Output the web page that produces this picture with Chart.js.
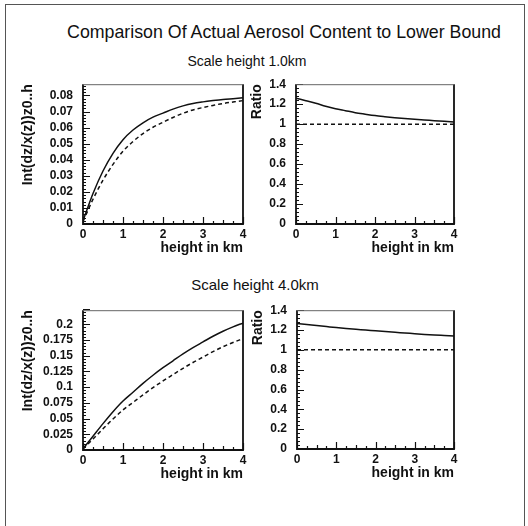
<!DOCTYPE html>
<html>
<head>
<meta charset="utf-8">
<script src="https://cdn.jsdelivr.net/npm/chart.js@4.4.0/dist/chart.umd.min.js"></script>
<style>
  body { margin: 0; background: #fff; width: 528px; height: 526px; position: relative; overflow: hidden;
         font-family: "Liberation Sans", Arial, sans-serif; color: #111; }
  .frame { position: absolute; left: 5px; top: 4px; width: 520px; height: 700px; border: 1px solid #555;
           border-bottom: none; box-sizing: border-box; }
  .txt { position: absolute; white-space: nowrap; transform: translate(-50%, -50%); }
  canvas { position: absolute; }
</style>
</head>
<body>
<div class="frame"></div>
<div class="txt" style="left:284px;top:32px;font-size:17.8px">Comparison Of Actual Aerosol Content to Lower Bound</div>
<div class="txt" style="left:247px;top:61px;font-size:14px">Scale height 1.0km</div>
<div class="txt" style="left:255px;top:284px;font-size:15px">Scale height 4.0km</div>

<canvas id="c1" width="235" height="190" style="left:20px;top:67px"></canvas>
<canvas id="c2" width="217" height="190" style="left:249px;top:67px"></canvas>
<canvas id="c3" width="235" height="190" style="left:20px;top:293px"></canvas>
<canvas id="c4" width="216" height="189" style="left:250px;top:293px"></canvas>

<script>
// height in km, shared by every curve
const heights = [0, 0.25, 0.5, 0.75, 1, 1.25, 1.5, 1.75, 2, 2.25, 2.5, 2.75, 3, 3.25, 3.5, 3.75, 4];

// scale height 1.0 km
const actual1 = [0.002, 0.019, 0.033, 0.044, 0.0525, 0.0585, 0.063, 0.0665, 0.069, 0.0715, 0.0735, 0.075, 0.076, 0.0768, 0.0775, 0.078, 0.0785];
const lower1  = [0.0016, 0.0154, 0.0273, 0.0371, 0.0453, 0.0513, 0.0563, 0.0602, 0.0633, 0.0663, 0.0689, 0.071, 0.0725, 0.0738, 0.075, 0.0759, 0.0768];
const ratio1  = [1.26, 1.235, 1.21, 1.18, 1.155, 1.135, 1.115, 1.1, 1.086, 1.075, 1.065, 1.056, 1.048, 1.041, 1.035, 1.028, 1.022];

// scale height 4.0 km
const actual4 = [0.002, 0.022, 0.042, 0.061, 0.078, 0.092, 0.106, 0.119, 0.131, 0.142, 0.153, 0.163, 0.172, 0.181, 0.189, 0.196, 0.202];
const lower4  = [0.0016, 0.0175, 0.0337, 0.0494, 0.0637, 0.0757, 0.0877, 0.0992, 0.1099, 0.12, 0.13, 0.1393, 0.1479, 0.1566, 0.1643, 0.1712, 0.1772];
const ratio4  = [1.265, 1.255, 1.245, 1.235, 1.225, 1.216, 1.208, 1.2, 1.192, 1.184, 1.177, 1.17, 1.163, 1.156, 1.15, 1.145, 1.14];

// reference line ratio = 1
const refX = [0, 4];
const refY = [1, 1];

// tick labels
const xTicks = [0, 1, 2, 3, 4];
const yTicks1 = [0, 0.01, 0.02, 0.03, 0.04, 0.05, 0.06, 0.07, 0.08];
const yTicks4 = [0, 0.025, 0.05, 0.075, 0.1, 0.125, 0.15, 0.175, 0.2];
const ratioTicks = [0, 0.2, 0.4, 0.6, 0.8, 1, 1.2, 1.4];

const FAM = '"Liberation Sans", Arial, sans-serif';
const INK = '#111';

// PAW style box with inward ticks
const frame = {
	id: 'frame',
	afterDraw(chart, args, o) {
		const { ctx, chartArea: a, scales: { x, y } } = chart;
		ctx.save();
		ctx.strokeStyle = INK;
		ctx.lineWidth = 1.2;
		ctx.beginPath();
		for (let i = 0; i <= 16; i++) {
			const v = i * 0.25;
			const px = Math.round(x.getPixelForValue(v)) + 0.5;
			const len = i % 4 === 0 ? 7 : (i % 2 === 0 ? 4 : 3);
			ctx.moveTo(px, a.bottom); ctx.lineTo(px, a.bottom - len);
		}
		const n = Math.round(y.max / o.minor);
		for (let i = 0; i <= n; i++) {
			const py = Math.round(y.getPixelForValue(i * o.minor)) + 0.5;
			const len = i % o.per === 0 ? 7 : 3;
			ctx.moveTo(a.left, py); ctx.lineTo(a.left + len, py);
		}
		ctx.stroke();
		ctx.lineWidth = 1.8;
		ctx.beginPath();
		ctx.moveTo(a.left, a.top); ctx.lineTo(a.left, a.bottom); ctx.lineTo(a.right, a.bottom); ctx.lineTo(a.right, a.top);
		ctx.stroke();
		ctx.strokeStyle = '#666';
		ctx.lineWidth = 1;
		ctx.beginPath();
		ctx.moveTo(a.left, a.top + 0.5); ctx.lineTo(a.right, a.top + 0.5);
		ctx.stroke();
		ctx.restore();
	}
};

function series(xs, ys, dash) {
	return {
		data: xs.map((h, i) => ({ x: h, y: ys[i] })),
		borderColor: INK, borderWidth: 1.5, borderDash: dash ? [4, 3] : [],
		pointRadius: 0, cubicInterpolationMode: 'monotone', fill: false
	};
}

function panel(id, datasets, yMax, yTicks, minor, per, yTitle, yW) {
	new Chart(document.getElementById(id), {
		type: 'line',
		data: { datasets },
		options: {
			responsive: false, animation: false, events: [],
			layout: { padding: { top: 10, right: 12, left: 0, bottom: 0 } },
			plugins: { legend: { display: false }, tooltip: { enabled: false }, frame: { minor, per } },
			scales: {
				x: {
					type: 'linear', min: 0, max: 4,
					grid: { display: false, drawTicks: false }, border: { display: false },
					afterBuildTicks: s => { s.ticks = xTicks.map(v => ({ value: v })); },
					afterFit: s => { s.height = 33; },
					ticks: { padding: 3, color: INK, autoSkip: false, maxRotation: 0, font: { family: FAM, size: 12, weight: 'bold' } },
					title: { display: true, text: 'height in km', align: 'end', padding: 0, color: INK, font: { family: FAM, size: 14, weight: 'bold' } }
				},
				y: {
					type: 'linear', min: 0, max: yMax,
					grid: { display: false, drawTicks: false }, border: { display: false },
					afterBuildTicks: s => { s.ticks = yTicks.map(v => ({ value: v })); },
					afterFit: s => { s.width = yW; },
					ticks: { padding: 10, color: INK, autoSkip: false, font: { family: FAM, size: 12, weight: 'bold' },
						callback: v => String(parseFloat(v.toFixed(3))) },
					title: { display: true, text: yTitle, align: 'end', padding: 0, color: INK, font: { family: FAM, size: 14, weight: 'bold' } }
				}
			}
		},
		plugins: [frame]
	});
}

panel('c1', [series(heights, actual1, false), series(heights, lower1, true)], 0.087, yTicks1, 0.002, 5, 'Int(dz/x(z))z0..h', 63);
panel('c2', [series(heights, ratio1, false), series(refX, refY, true)], 1.4, ratioTicks, 0.04, 5, 'Ratio', 47);
panel('c3', [series(heights, actual4, false), series(heights, lower4, true)], 0.2225, yTicks4, 0.005, 5, 'Int(dz/x(z))z0..h', 63);
panel('c4', [series(heights, ratio4, false), series(refX, refY, true)], 1.4, ratioTicks, 0.04, 5, 'Ratio', 47);
</script>
</body>
</html>
